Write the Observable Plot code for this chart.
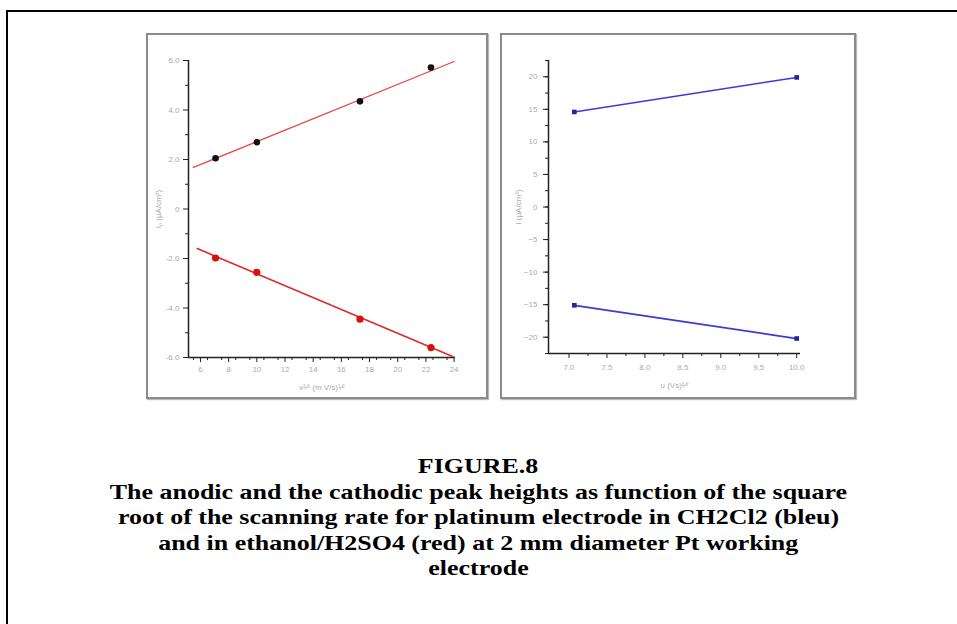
<!DOCTYPE html>
<html>
<head>
<meta charset="utf-8">
<script src="https://cdn.jsdelivr.net/npm/d3@7"></script>
<script src="https://cdn.jsdelivr.net/npm/@observablehq/plot@0.6"></script>
<style>
  html, body { margin: 0; padding: 0; background: #fff; width: 957px; height: 624px; overflow: hidden; }
  #outer { position: absolute; left: 6px; top: 10px; width: 1000px; height: 700px; border: 2px solid #000; box-sizing: border-box; }
  .panel { position: absolute; border: 2px solid #8a8a8a; box-sizing: border-box; box-shadow: 1px 1px 1px #bbb; }
  .plot { position: absolute; }
  #caption { position: absolute; left: 0; top: 453px; width: 957px; text-align: center;
    font-family: "Liberation Serif", "Times New Roman", serif; font-weight: bold; font-size: 22px; line-height: 25.5px; color: #000; }
  #caption span { display: inline-block; white-space: nowrap; transform: scaleX(1.18); transform-origin: center; }
</style>
</head>
<body>
<div id="outer"></div>
<div class="panel" style="left:146px;top:33px;width:342px;height:366px;"></div>
<div class="panel" style="left:500px;top:33px;width:356px;height:366px;"></div>
<div id="left" class="plot" style="left:146px;top:33px;"></div>
<div id="right" class="plot" style="left:500px;top:33px;"></div>
<div id="caption"><span>FIGURE.8</span><br><span>The anodic and the cathodic peak heights as function of the square</span><br><span>root of the scanning rate for platinum electrode in CH2Cl2 (bleu)</span><br><span>and in ethanol/H2SO4 (red) at 2 mm diameter Pt working</span><br><span>electrode</span></div>
<script>
// ---- Left panel (ethanol/H2SO4) ----
const sqrtRate = [7.07, 10.0, 17.32, 22.36];
const anodicRed = [2.05, 2.7, 4.35, 5.72];
const cathodicRed = [-1.98, -2.56, -4.45, -5.6];
const anodicFitX = [5.5, 24.0];
const anodicFitY = [1.68, 5.96];
const cathodicFitX = [5.77, 23.9];
const cathodicFitY = [-1.6, -5.96];
const leftXTicks = [6, 8, 10, 12, 14, 16, 18, 20, 22, 24];
const leftYTicks = [-6, -4, -2, 0, 2, 4, 6];

// ---- Right panel (CH2Cl2) ----
const sqrtRateBlue = [7.07, 10.0];
const anodicBlue = [14.6, 19.9];
const cathodicBlue = [-15.1, -20.2];
const rightXTicks = [7.0, 7.5, 8.0, 8.5, 9.0, 9.5, 10.0];
const rightYTicks = [-20, -15, -10, -5, 0, 5, 10, 15, 20];

const tickFont = "Liberation Sans, Arial, sans-serif";

const pts = (xs, ys) => xs.map((x, i) => ({x, y: ys[i]}));

const leftXDom = [5.15, 24.1], leftYDom = [-6, 6];
const left = Plot.plot({
  width: 342, height: 366,
  marginLeft: 42, marginTop: 27, marginBottom: 42, marginRight: 33,
  style: {fontFamily: tickFont, fontSize: "8px", color: "#999", background: "transparent"},
  x: {domain: leftXDom},
  y: {domain: leftYDom},
  marks: [
    Plot.axisX({ticks: d3.range(5.5, 24.1, 1), tickSize: 3, tickFormat: () => "", stroke: "#222", label: null}),
    Plot.axisX({ticks: leftXTicks, tickSize: 5, tickPadding: 4, stroke: "#222", fill: "#aaa",
      label: "v\u00B9\u2044\u00B2 (m V/s)\u00B9\u2044\u00B2", labelAnchor: "center", labelArrow: "none", labelOffset: 32}),
    Plot.axisY({ticks: d3.range(-5, 6, 2), tickSize: 3, tickFormat: () => "", stroke: "#222", label: null}),
    Plot.axisY({ticks: leftYTicks, tickSize: 5, tickPadding: 4, stroke: "#222", fill: "#aaa",
      tickFormat: d => d === 0 ? "0" : d.toFixed(1),
      label: "I\u209A (\u00B5A/cm\u00B2)", labelAnchor: "center", labelArrow: "none", labelOffset: 33}),
    Plot.ruleX([leftXDom[0]], {stroke: "#222", strokeWidth: 1.5}),
    Plot.ruleY([leftYDom[0]], {stroke: "#222", strokeWidth: 1.5}),
    Plot.line(pts(anodicFitX, anodicFitY), {x: "x", y: "y", stroke: "#e84848", strokeWidth: 1.3}),
    Plot.line(pts(cathodicFitX, cathodicFitY), {x: "x", y: "y", stroke: "#dd2a2a", strokeWidth: 1.6}),
    Plot.dot(pts(sqrtRate, anodicRed), {x: "x", y: "y", r: 3.3, fill: "#111", stroke: "none"}),
    Plot.dot(pts(sqrtRate, cathodicRed), {x: "x", y: "y", r: 3.6, fill: "#d81010", stroke: "none"})
  ]
});
document.getElementById("left").appendChild(left);

const rightXDom = [6.73, 10.05], rightYDom = [-22.5, 22.5];
const right = Plot.plot({
  width: 356, height: 366,
  marginLeft: 48, marginTop: 27, marginBottom: 46, marginRight: 56,
  style: {fontFamily: tickFont, fontSize: "8px", color: "#999", background: "transparent"},
  x: {domain: rightXDom},
  y: {domain: rightYDom},
  marks: [
    Plot.axisX({ticks: d3.range(7.25, 10.0, 0.5), tickSize: 3, tickFormat: () => "", stroke: "#222", label: null}),
    Plot.axisX({ticks: rightXTicks, tickSize: 5, tickPadding: 6, stroke: "#222", fill: "#aaa",
      tickFormat: d => d.toFixed(1),
      label: "\u03C5 (Vs)\u00B9\u2044\u00B2", labelAnchor: "center", labelArrow: "none", labelOffset: 34}),
    Plot.axisY({ticks: d3.range(-22.5, 23, 2.5), tickSize: 3, tickFormat: () => "", stroke: "#222", label: null}),
    Plot.axisY({ticks: rightYTicks, tickSize: 5, tickPadding: 6, stroke: "#222", fill: "#aaa",
      label: "I (\u00B5A/cm\u00B2)", labelAnchor: "center", labelArrow: "none", labelOffset: 33}),
    Plot.ruleX([rightXDom[0]], {stroke: "#222", strokeWidth: 1.5}),
    Plot.ruleY([rightYDom[0]], {stroke: "#222", strokeWidth: 1.5}),
    Plot.line(pts(sqrtRateBlue, anodicBlue), {x: "x", y: "y", stroke: "#3a3ad6", strokeWidth: 1.5}),
    Plot.line(pts(sqrtRateBlue, cathodicBlue), {x: "x", y: "y", stroke: "#3a3ad6", strokeWidth: 1.8}),
    Plot.dot(pts(sqrtRateBlue, anodicBlue), {x: "x", y: "y", r: 2.6, symbol: "square", fill: "#2424a8", stroke: "none"}),
    Plot.dot(pts(sqrtRateBlue, cathodicBlue), {x: "x", y: "y", r: 2.6, symbol: "square", fill: "#2424a8", stroke: "none"})
  ]
});
document.getElementById("right").appendChild(right);
</script>
</body>
</html>
